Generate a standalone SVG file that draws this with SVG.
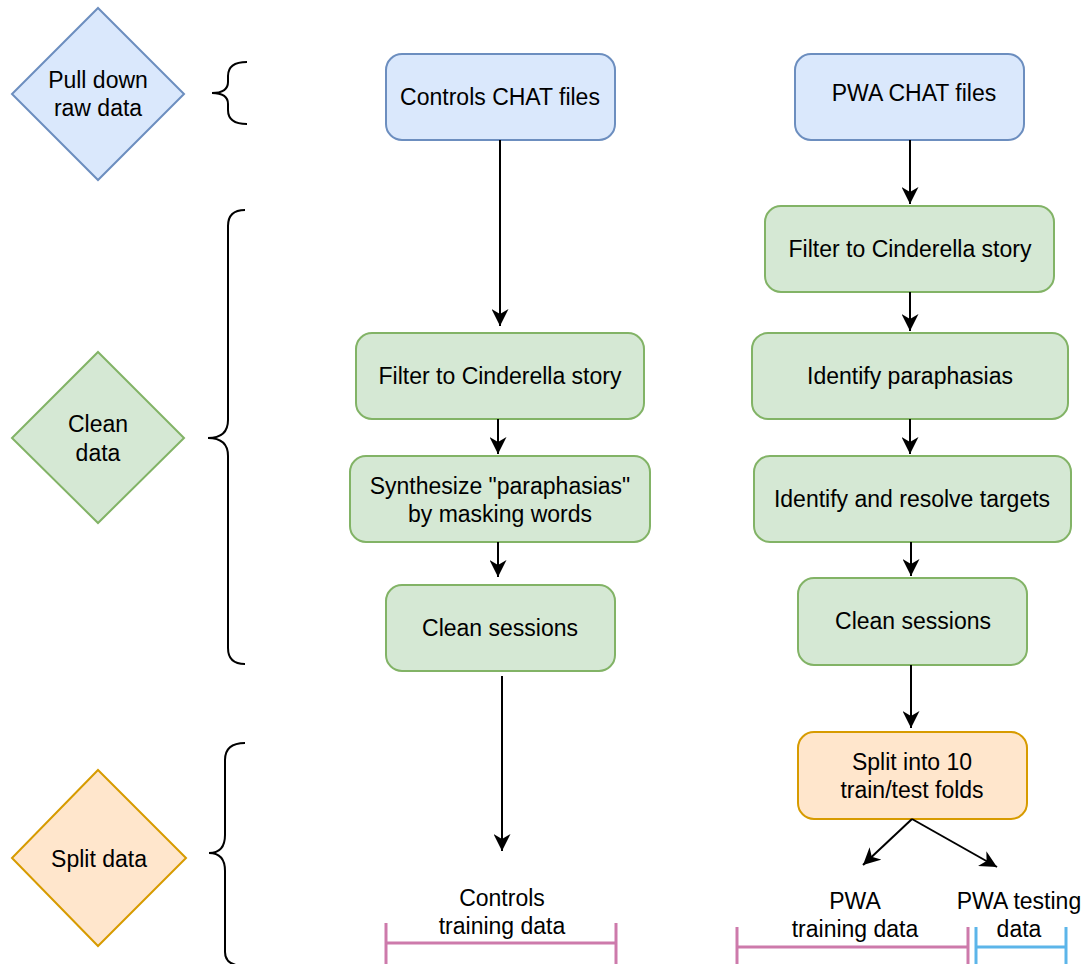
<svg xmlns="http://www.w3.org/2000/svg" width="1083" height="964" viewBox="0 0 1083 964">
<style>
text{font-family:"Liberation Sans",Arial,Helvetica,sans-serif;font-size:23px;fill:#000;text-anchor:middle}
.blue{fill:#dae8fc;stroke:#6c8ebf;stroke-width:2}
.green{fill:#d5e8d4;stroke:#82b366;stroke-width:2}
.orange{fill:#ffe6cc;stroke:#d79b00;stroke-width:2}
.edge{fill:none;stroke:#000;stroke-width:2;marker-end:url(#arr)}
.brace{fill:none;stroke:#000;stroke-width:2}
.pink{fill:none;stroke:#cd7aab;stroke-width:3}
.sky{fill:none;stroke:#5cb5e9;stroke-width:3}
</style>
<defs>
<marker id="arr" viewBox="0 0 17 17" markerWidth="17" markerHeight="17" refX="17" refY="8.5" orient="auto" markerUnits="userSpaceOnUse">
<path d="M0,0 L17,8.5 L0,17 L5,8.5 z" fill="#000"/>
</marker>
</defs>
<rect width="1083" height="964" fill="#fff"/>

<g id="stage-pull">
<polygon class="blue" points="98,8 184,94 98,180 12,94"/>
<text x="98" y="88">Pull down</text>
<text x="98" y="116">raw data</text>
</g>
<g id="stage-clean">
<polygon class="green" points="98,352 184,438 98,523 12,438"/>
<text x="98" y="432">Clean</text>
<text x="98" y="461">data</text>
</g>
<g id="stage-split">
<polygon class="orange" points="98,770 186,858 98,946 12,858"/>
<text x="99" y="867">Split data</text>
</g>

<g id="braces">
<path class="brace" d="M247,62 Q228,62 228,76 V82 Q228,93 212,93 Q228,93 228,104 V110 Q228,124 247,124"/>
<path class="brace" d="M245,210 Q228,210 228,226 V420 Q228,438 208,438 Q228,438 228,456 V648 Q228,664 245,664"/>
<path class="brace" d="M245,743 Q225,743 225,760 V835 Q225,853 209,853 Q225,853 225,871 V952 Q225,966 245,966"/>
</g>

<g id="controls-chat">
<rect class="blue" x="386" y="54" width="229" height="86" rx="16"/>
<text x="500" y="105">Controls CHAT files</text>
</g>
<g id="controls-filter">
<rect class="green" x="356" y="333" width="288" height="86" rx="16"/>
<text x="500" y="384">Filter to Cinderella story</text>
</g>
<g id="controls-synth">
<rect class="green" x="350" y="456" width="300" height="86" rx="16"/>
<text x="500" y="494">Synthesize "paraphasias"</text>
<text x="500" y="522">by masking words</text>
</g>
<g id="controls-clean">
<rect class="green" x="386" y="585" width="229" height="86" rx="16"/>
<text x="500" y="636">Clean sessions</text>
</g>
<g id="controls-training">
<text x="502" y="906">Controls</text>
<text x="502" y="934">training data</text>
<path class="pink" d="M386,923 V964 M386,943 H616 M616,923 V964"/>
</g>

<g id="pwa-chat">
<rect class="blue" x="795" y="54" width="229" height="86" rx="16"/>
<text x="914" y="101">PWA CHAT files</text>
</g>
<g id="pwa-filter">
<rect class="green" x="765" y="206" width="289" height="86" rx="16"/>
<text x="910" y="257">Filter to Cinderella story</text>
</g>
<g id="pwa-identify">
<rect class="green" x="752" y="333" width="316" height="86" rx="16"/>
<text x="910" y="384">Identify paraphasias</text>
</g>
<g id="pwa-targets">
<rect class="green" x="754" y="456" width="317" height="86" rx="16"/>
<text x="912" y="507">Identify and resolve targets</text>
</g>
<g id="pwa-clean">
<rect class="green" x="798" y="578" width="229" height="87" rx="16"/>
<text x="913" y="629">Clean sessions</text>
</g>
<g id="pwa-split">
<rect class="orange" x="798" y="732" width="229" height="87" rx="16"/>
<text x="912" y="770">Split into 10</text>
<text x="912" y="798">train/test folds</text>
</g>
<g id="pwa-training">
<text x="855" y="909">PWA</text>
<text x="855" y="937">training data</text>
<path class="pink" d="M737,927 V964 M737,947 H968 M968,927 V964"/>
</g>
<g id="pwa-testing">
<text x="1019" y="909">PWA testing</text>
<text x="1019" y="937">data</text>
<path class="sky" d="M976,927 V964 M976,947 H1066 M1066,927 V964"/>
</g>

<g id="connectors">
<path class="edge" d="M500,140 V326"/>
<path class="edge" d="M498,419 V454"/>
<path class="edge" d="M498,542 V577"/>
<path class="edge" d="M502,676 V851"/>
<path class="edge" d="M910,140 V204"/>
<path class="edge" d="M910,292 V331"/>
<path class="edge" d="M910,419 V454"/>
<path class="edge" d="M911,542 V576"/>
<path class="edge" d="M911,665 V728"/>
<path class="edge" d="M912,819 L863,865"/>
<path class="edge" d="M912,819 L997,867"/>
</g>
</svg>
